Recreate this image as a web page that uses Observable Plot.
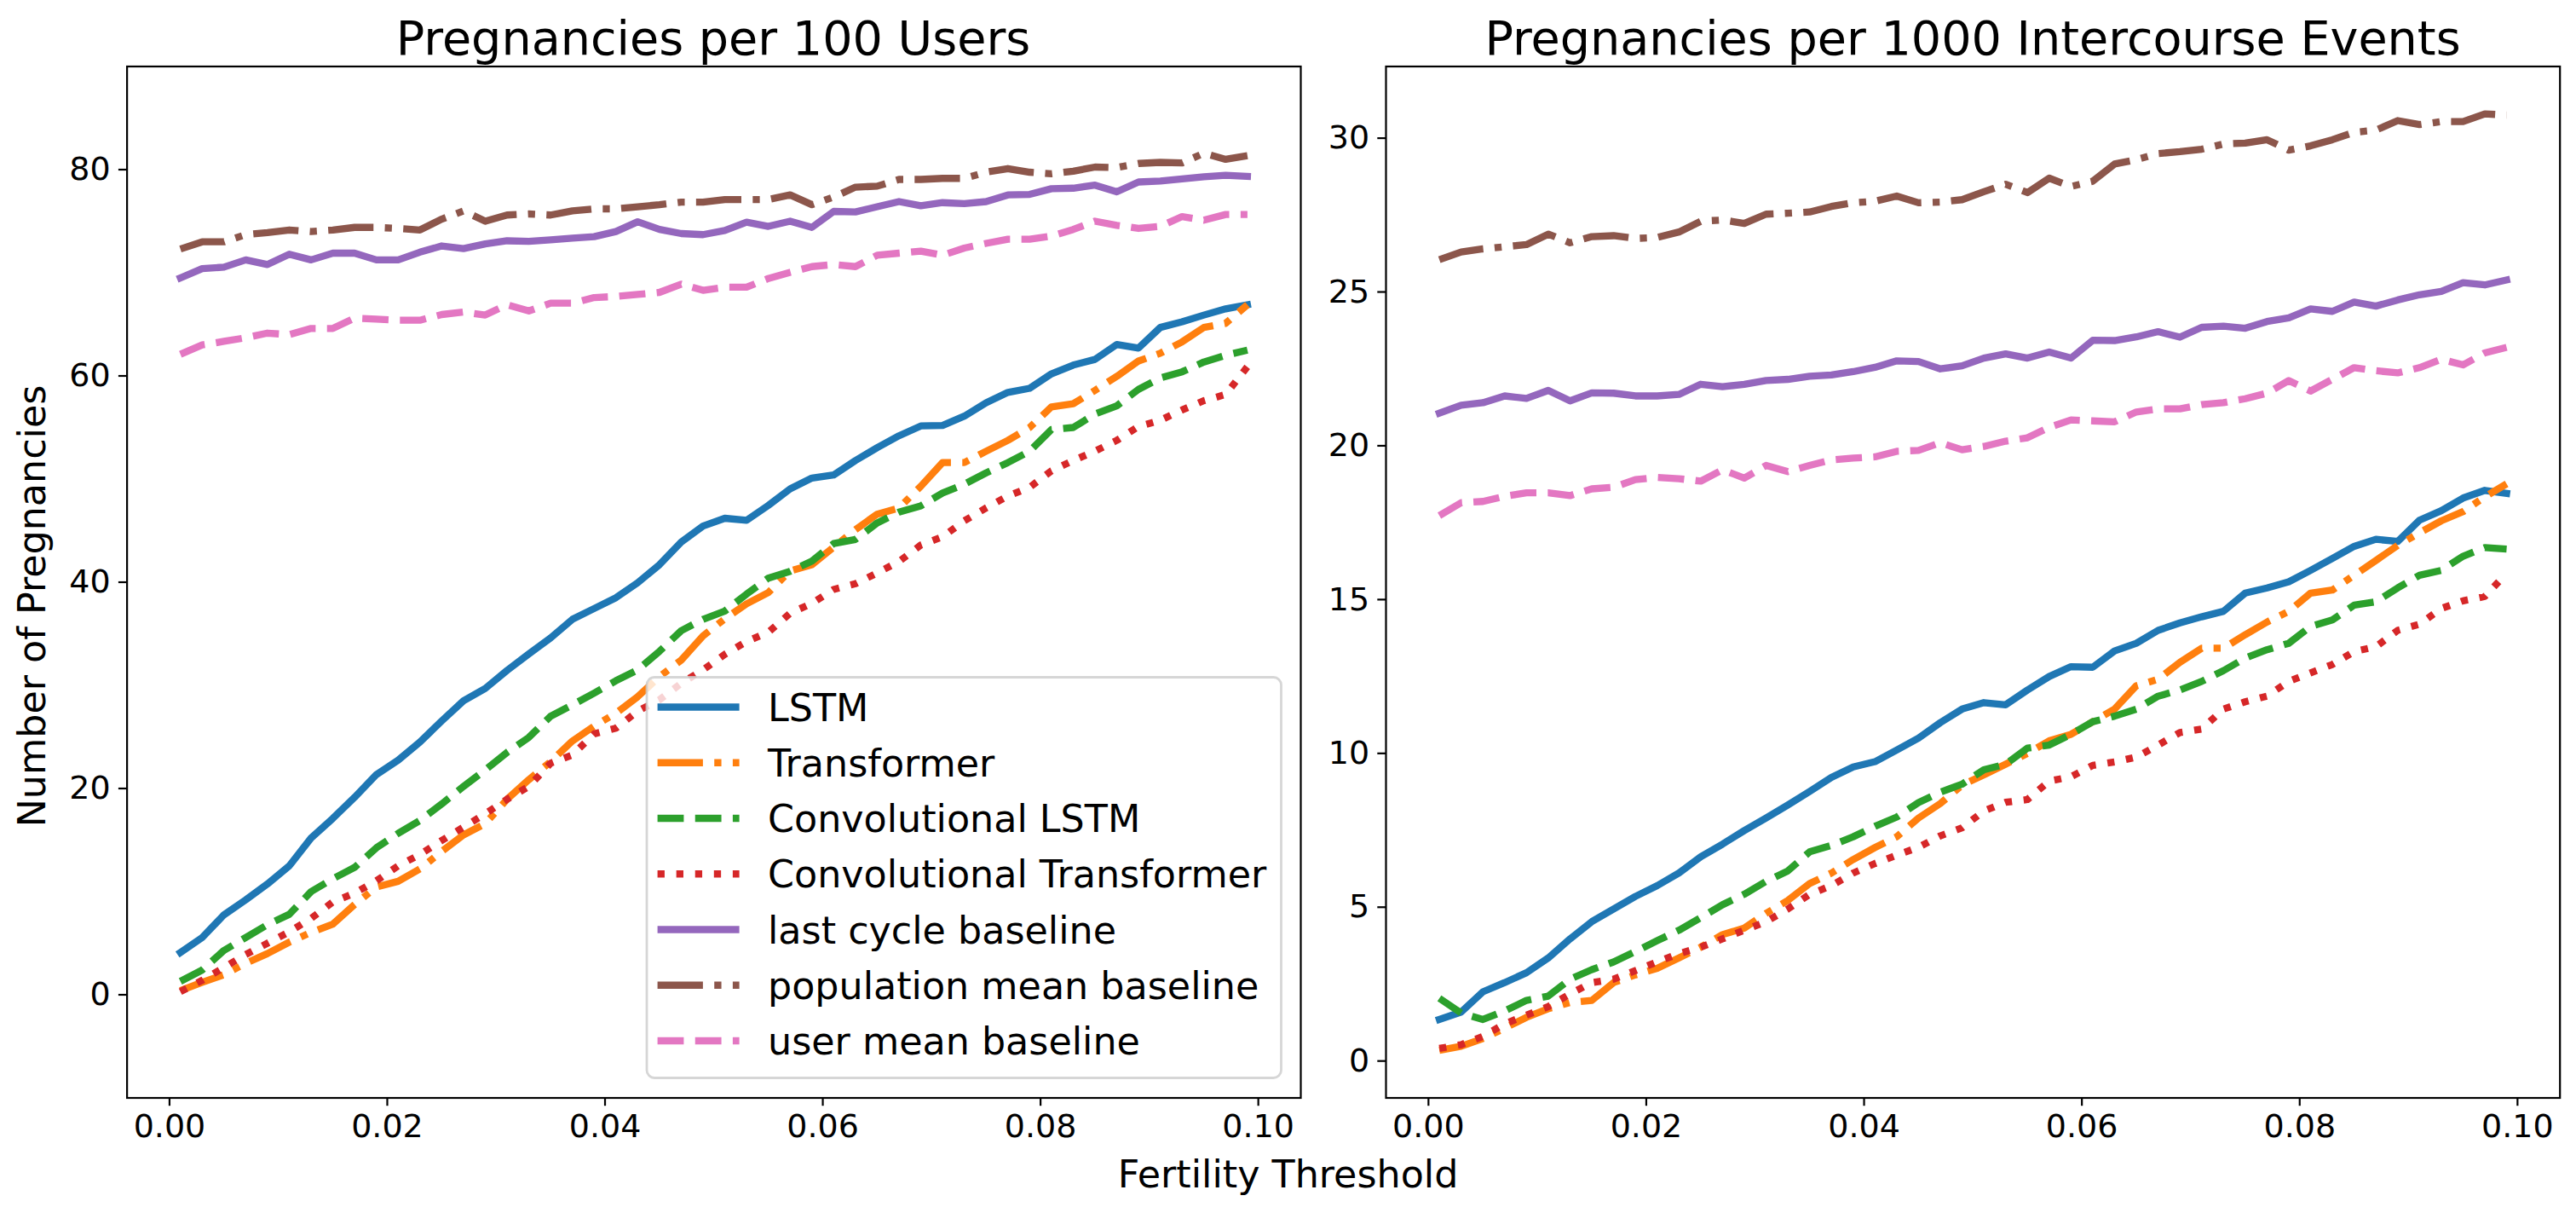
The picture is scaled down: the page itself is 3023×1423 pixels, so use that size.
<!DOCTYPE html>
<html>
<head>
<meta charset="utf-8">
<script src="https://cdn.jsdelivr.net/npm/d3@7"></script>
<script src="https://cdn.jsdelivr.net/npm/@observablehq/plot@0.6"></script>
<style>
  html, body { margin: 0; padding: 0; background: white; overflow: hidden; }
  #chart { position: relative; width: 3023px; height: 1423px; background: white; font-family: "DejaVu Sans", sans-serif; }
  #chart svg { position: absolute; top: 0; }
</style>
</head>
<body>
<div id="chart"></div>
<script>
// ---------------- data ----------------
const thresholds = [0.001,0.003,0.005,0.007,0.009,0.011,0.013,0.015,0.017,0.019,
  0.021,0.023,0.025,0.027,0.029,0.031,0.033,0.035,0.037,0.039,
  0.041,0.043,0.045,0.047,0.049,0.051,0.053,0.055,0.057,0.059,
  0.061,0.063,0.065,0.067,0.069,0.071,0.073,0.075,0.077,0.079,
  0.081,0.083,0.085,0.087,0.089,0.091,0.093,0.095,0.097,0.099];

const seriesNames = ["LSTM", "Transformer", "Convolutional LSTM", "Convolutional Transformer",
  "last cycle baseline", "population mean baseline", "user mean baseline"];

// Pregnancies per 100 Users
const usersLSTM = [4.1,5.55,7.75,9.2,10.75,12.5,15.2,17.1,19.15,21.35,
  22.75,24.5,26.55,28.5,29.7,31.45,33.05,34.6,36.4,37.45,
  38.5,39.95,41.7,43.9,45.45,46.2,46.0,47.45,49.05,50.1,
  50.4,51.8,53.05,54.2,55.15,55.2,56.1,57.4,58.4,58.8,
  60.2,61.05,61.6,63.05,62.7,64.7,65.25,65.9,66.5,66.9];
const usersTransformer = [0.4,1.2,1.95,3.05,4.0,5.1,6.05,6.85,8.75,10.45,
  11.0,12.2,13.9,15.5,16.6,18.95,20.85,22.6,24.6,26.05,
  27.3,28.9,30.85,32.45,34.8,36.45,37.9,39.0,41.1,41.7,
  43.4,45.1,46.6,47.2,49.3,51.6,51.6,52.7,53.75,55.0,
  57.0,57.3,58.6,59.95,61.45,62.2,63.3,64.7,65.1,66.9];
const usersConvLSTM = [1.3,2.4,4.3,5.55,6.8,7.8,10.0,11.25,12.35,14.25,
  15.65,16.9,18.5,20.2,21.8,23.5,24.95,27.0,28.1,29.25,
  30.45,31.5,33.3,35.3,36.4,37.2,38.85,40.4,41.05,42.05,
  43.75,44.15,45.75,46.8,47.4,48.65,49.5,50.6,51.6,52.7,
  54.8,55.0,56.3,57.1,58.7,59.8,60.4,61.35,62.0,62.5];
const usersConvTransformer = [0.3,1.4,2.65,3.9,5.0,6.1,7.4,9.0,9.85,11.05,
  12.5,13.6,14.95,16.25,17.55,18.95,20.2,22.45,23.25,25.3,
  25.85,27.5,28.6,30.2,31.5,33.0,34.25,35.15,37.0,37.95,
  39.3,39.85,40.9,42.0,43.6,44.4,45.95,47.2,48.35,49.2,
  50.8,51.8,52.7,53.75,55.1,55.7,56.7,57.6,58.2,60.9];
const usersLastCycle = [69.5,70.4,70.55,71.25,70.8,71.8,71.25,71.9,71.9,71.25,
  71.25,72.0,72.6,72.35,72.8,73.1,73.05,73.2,73.35,73.5,
  74.0,74.95,74.2,73.8,73.7,74.1,74.9,74.5,75.0,74.4,
  75.95,75.9,76.4,76.9,76.5,76.8,76.7,76.9,77.55,77.6,
  78.15,78.2,78.5,77.85,78.8,78.9,79.1,79.3,79.45,79.35];
const usersPopulationMean = [72.3,73.0,73.0,73.7,73.9,74.15,74.0,74.15,74.4,74.4,
  74.3,74.15,75.2,76.0,75.0,75.6,75.7,75.6,76.0,76.2,
  76.2,76.4,76.6,76.85,76.85,77.1,77.1,77.1,77.55,76.6,
  77.35,78.3,78.4,79.05,79.05,79.15,79.15,79.75,80.1,79.75,
  79.6,79.85,80.25,80.2,80.6,80.7,80.65,81.6,81.0,81.35];
const usersUserMean = [62.1,63.0,63.35,63.7,64.15,64.0,64.6,64.6,65.6,65.5,
  65.4,65.4,65.95,66.2,65.9,66.9,66.3,67.05,67.05,67.6,
  67.7,67.9,68.1,68.9,68.3,68.6,68.6,69.45,70.05,70.6,
  70.8,70.6,71.7,71.9,72.1,71.7,72.4,72.85,73.25,73.25,
  73.55,74.2,75.0,74.6,74.3,74.5,75.45,75.1,75.65,75.65];

// Pregnancies per 1000 Intercourse Events
const eventsLSTM = [1.35,1.59,2.25,2.55,2.87,3.35,3.97,4.53,4.94,5.35,
  5.7,6.11,6.64,7.05,7.49,7.9,8.32,8.76,9.22,9.56,
  9.73,10.11,10.5,11.0,11.44,11.65,11.58,12.06,12.5,12.82,
  12.8,13.33,13.58,14.0,14.24,14.44,14.62,15.21,15.38,15.58,
  15.95,16.34,16.73,16.96,16.89,17.58,17.89,18.3,18.55,18.45];
const eventsTransformer = [0.35,0.48,0.73,1.07,1.42,1.7,1.9,1.97,2.55,2.8,
  3.01,3.35,3.7,4.11,4.32,4.8,5.22,5.77,6.11,6.55,
  6.94,7.29,7.9,8.37,8.97,9.3,9.65,10.0,10.41,10.62,
  11.03,11.44,12.2,12.41,12.96,13.42,13.42,13.86,14.27,14.62,
  15.21,15.31,15.79,16.27,16.76,17.17,17.56,17.86,18.34,18.76];
const eventsConvLSTM = [2.04,1.56,1.35,1.63,1.97,2.11,2.66,2.97,3.22,3.56,
  3.91,4.25,4.66,5.08,5.42,5.84,6.18,6.8,7.01,7.29,
  7.63,7.93,8.4,8.74,9.0,9.47,9.65,10.17,10.27,10.62,
  11.03,11.21,11.44,11.86,12.06,12.34,12.69,13.1,13.37,13.58,
  14.13,14.34,14.82,14.93,15.38,15.79,15.95,16.41,16.69,16.64];
const eventsConvTransformer = [0.41,0.53,0.8,1.21,1.49,1.77,2.18,2.55,2.66,2.94,
  3.22,3.49,3.7,3.97,4.25,4.53,4.94,5.42,5.7,6.11,
  6.42,6.69,6.95,7.32,7.58,8.13,8.41,8.5,9.1,9.24,
  9.61,9.72,9.88,10.27,10.68,10.79,11.44,11.68,11.86,12.34,
  12.62,12.89,13.31,13.47,14.0,14.2,14.71,14.96,15.1,15.86];
const eventsLastCycle = [21.06,21.32,21.4,21.62,21.54,21.8,21.46,21.72,21.71,21.62,
  21.62,21.67,22.0,21.92,22.0,22.12,22.16,22.26,22.3,22.41,
  22.55,22.76,22.74,22.5,22.6,22.85,22.99,22.85,23.05,22.85,
  23.43,23.42,23.54,23.71,23.53,23.85,23.89,23.82,24.04,24.16,
  24.45,24.37,24.67,24.54,24.74,24.91,25.02,25.3,25.23,25.39];
const eventsPopulationMean = [26.05,26.3,26.4,26.47,26.54,26.88,26.6,26.8,26.83,26.74,
  26.77,26.95,27.3,27.34,27.23,27.53,27.56,27.6,27.78,27.9,
  27.95,28.12,27.9,27.92,28.0,28.26,28.5,28.23,28.7,28.43,
  28.6,29.16,29.3,29.5,29.56,29.64,29.81,29.84,29.95,29.61,
  29.75,29.95,30.19,30.26,30.57,30.44,30.54,30.54,30.79,30.75];
const eventsUserMean = [17.73,18.15,18.19,18.36,18.47,18.47,18.38,18.6,18.65,18.9,
  18.97,18.93,18.85,19.22,18.95,19.36,19.16,19.36,19.54,19.6,
  19.64,19.82,19.85,20.1,19.87,19.98,20.15,20.26,20.6,20.84,
  20.81,20.78,21.1,21.2,21.2,21.34,21.4,21.53,21.71,22.12,
  21.78,22.16,22.54,22.44,22.37,22.54,22.81,22.63,23.02,23.2];

const xTicks = [0, 0.02, 0.04, 0.06, 0.08, 0.10];
const xTickLabels = ["0.00", "0.02", "0.04", "0.06", "0.08", "0.10"];
const usersYTicks = [0, 20, 40, 60, 80];
const usersYTickLabels = ["0", "20", "40", "60", "80"];
const eventsYTicks = [0, 5, 10, 15, 20, 25, 30];
const eventsYTickLabels = ["0", "5", "10", "15", "20", "25", "30"];

const panelTitles = ["Pregnancies per 100 Users", "Pregnancies per 1000 Intercourse Events"];
const xLabel = "Fertility Threshold";
const yLabel = "Number of Pregnancies";

// ---------------- styles ----------------
const colors = ["#1f77b4", "#ff7f0e", "#2ca02c", "#d62728", "#9467bd", "#8c564b", "#e377c2"];
const LW = 8.33;
const dashPatterns = {
  solid: null,
  dashed: [3.7, 1.6],
  dashdot: [6.4, 1.6, 1, 1.6],
  dotted: [1, 1.65]
};
const kinds = ["solid", "dashdot", "dashed", "dotted", "solid", "dashdot", "dashed"];
function dashOf(k) { const p = dashPatterns[kinds[k]]; return p ? p.map(v => (v * LW).toFixed(2)).join(",") : null; }
function capOf(k) { return kinds[k] === "solid" ? "square" : "butt"; }

const FONT = "DejaVu Sans";
const TOP = 77.5, BOTTOM = 1287.5, H = 1423;

function panel(seriesList, yDomain, yTicks, yTickLabels, width, ml, mr) {
  const lines = seriesList.map((arr, k) => {
    const data = thresholds.map((t, i) => ({x: t, y: arr[i]})).filter(d => d.y != null);
    const opts = {x: "x", y: "y", stroke: colors[k], strokeWidth: LW,
      strokeLinecap: capOf(k), strokeLinejoin: "round"};
    const dash = dashOf(k);
    if (dash) opts.strokeDasharray = dash;
    return Plot.line(data, opts);
  });
  return Plot.plot({
    width, height: H,
    marginLeft: ml, marginRight: mr, marginTop: TOP, marginBottom: H - BOTTOM,
    x: {type: "linear", domain: [-0.0039, 0.1039]},
    y: {type: "linear", domain: yDomain},
    style: {background: "transparent", fontFamily: FONT, color: "black", overflow: "visible"},
    marks: [
      ...lines,
      Plot.frame({stroke: "black", strokeWidth: 2.2}),
      Plot.axisX({ticks: xTicks, tickFormat: (d, i) => xTickLabels[i], tickSize: 9.7, tickPadding: 9.7,
        fontSize: 38, strokeWidth: 2.2, label: null, fill: "black"}),
      Plot.axisY({ticks: yTicks, tickFormat: (d, i) => yTickLabels[i], tickSize: 9.7, tickPadding: 9.7,
        fontSize: 38, strokeWidth: 2.2, label: null, fill: "black"})
    ]
  });
}

const chart = document.getElementById("chart");

const left = panel([usersLSTM, usersTransformer, usersConvLSTM, usersConvTransformer,
  usersLastCycle, usersPopulationMean, usersUserMean], [-10, 90], usersYTicks, usersYTickLabels, 1576, 148.6, 50);
left.style.left = "0px";
chart.appendChild(left);

const right = panel([eventsLSTM, eventsTransformer, eventsConvLSTM, eventsConvTransformer,
  eventsLastCycle, eventsPopulationMean, eventsUserMean], [-1.2, 32.33], eventsYTicks, eventsYTickLabels, 1447, 50, 19.3);
right.style.left = "1576px";
chart.appendChild(right);

// ---------------- titles, labels, legend ----------------
const ov = d3.select(chart).append("svg")
  .attr("width", 3023).attr("height", H)
  .style("left", "0px").style("pointer-events", "none")
  .attr("font-family", FONT);

ov.append("text").attr("x", 837).attr("y", 64).attr("text-anchor", "middle")
  .attr("font-size", 55.6).attr("fill", "black").text(panelTitles[0]);
ov.append("text").attr("x", 2315).attr("y", 64).attr("text-anchor", "middle")
  .attr("font-size", 55.6).attr("fill", "black").text(panelTitles[1]);
ov.append("text").attr("x", 1511.5).attr("y", 1393).attr("text-anchor", "middle")
  .attr("font-size", 44.4).attr("fill", "black").text(xLabel);
ov.append("text").attr("transform", "translate(53,711) rotate(-90)").attr("text-anchor", "middle")
  .attr("font-size", 44.4).attr("fill", "black").text(yLabel);

const lg = ov.append("g");
lg.append("rect").attr("x", 759).attr("y", 794.5).attr("width", 744.5).attr("height", 470)
  .attr("rx", 9).attr("ry", 9).attr("fill", "white").attr("fill-opacity", 0.8)
  .attr("stroke", "#cccccc").attr("stroke-opacity", 0.8).attr("stroke-width", 2.8);
seriesNames.forEach((name, k) => {
  const cy = 829.5 + k * 65.25;
  const ln = lg.append("line").attr("x1", 771.6).attr("x2", 867.6).attr("y1", cy).attr("y2", cy)
    .attr("stroke", colors[k]).attr("stroke-width", LW).attr("stroke-linecap", kinds[k] === "solid" ? "butt" : "butt");
  const dash = dashOf(k);
  if (dash) ln.attr("stroke-dasharray", dash);
  lg.append("text").attr("x", 901).attr("y", cy + 16).attr("font-size", 44.4).attr("fill", "black").text(name);
});
</script>
</body>
</html>
